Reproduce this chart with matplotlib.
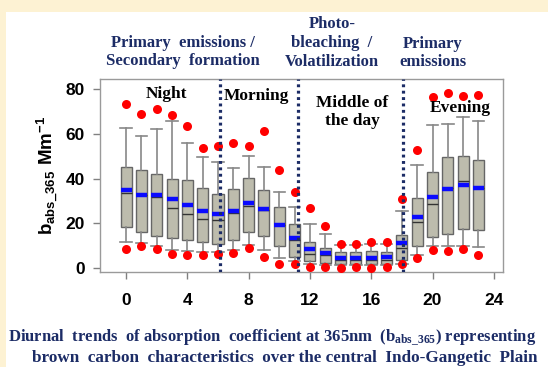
"""Diurnal box plot of b_abs_365 over the central IGP."""

import numpy as np
import matplotlib
matplotlib.use("Agg")
import matplotlib.pyplot as plt
from matplotlib.patches import Rectangle

plt.rcParams["mathtext.fontset"] = "custom"
plt.rcParams["mathtext.bf"] = "Liberation Serif:bold"
plt.rcParams["mathtext.sf"] = "Liberation Sans:bold"
plt.rcParams["mathtext.rm"] = "Liberation Sans"

hours = list(range(24))
top_dot = [73.4, 68.9, 71.0, 68.7, 63.5, 53.5, 54.4, 55.9, 54.4, 61.2, 43.9, 34.1,
           26.6, 18.9, 10.8, 10.8, 11.7, 11.7, 30.7, 52.6, 76.4, 78.2, 77.0, 77.3]
whisk_hi = [62.9, 59.1, 62.1, 65.7, 56.1, 49.8, 47.4, 44.8, 49.9, 45.0, 34.1, 27.4,
            19.8, 15.0, 10.2, 10.2, 10.5, 10.5, 25.6, 46.3, 63.9, 64.4, 67.7, 65.9]
q3 = [45.1, 43.9, 42.1, 40.0, 39.5, 35.9, 33.1, 35.2, 40.3, 35.0, 27.1, 19.8,
      11.4, 9.0, 6.9, 6.9, 7.5, 7.2, 14.7, 31.3, 43.0, 49.6, 50.2, 48.4]
median = [33.4, 32.5, 31.9, 26.8, 24.1, 22.0, 21.5, 24.4, 27.7, 26.0, 19.0, 12.3,
          6.3, 5.6, 3.6, 3.6, 3.3, 3.6, 9.0, 20.3, 28.6, 35.8, 39.1, 35.8]
mean = [34.9, 32.8, 32.5, 30.8, 28.1, 25.3, 24.1, 25.6, 28.9, 26.5, 19.1, 13.5,
        8.4, 6.5, 4.5, 4.5, 4.5, 4.7, 11.1, 22.9, 31.6, 35.2, 37.0, 35.8]
q1 = [18.3, 16.2, 14.1, 13.5, 12.3, 11.7, 10.5, 12.5, 16.2, 14.1, 9.6, 4.8,
      3.0, 2.1, 1.8, 1.8, 1.5, 1.8, 3.6, 9.8, 13.8, 15.3, 17.3, 17.1]
whisk_lo = [11.7, 11.0, 9.6, 8.1, 7.5, 7.2, 7.2, 8.0, 10.2, 8.0, 4.5, 3.0,
            1.5, 1.2, 1.2, 1.2, 1.2, 1.2, 1.8, 5.7, 9.6, 9.6, 9.6, 9.3]
bottom_dot = [8.6, 9.8, 8.6, 6.3, 5.6, 5.7, 6.3, 6.5, 8.7, 4.8, 1.8, 1.8,
              0.5, 0.5, 0.0, 0.3, 0.0, 0.3, 1.5, 4.2, 8.1, 7.5, 8.3, 5.7]

period_breaks = [6.1, 11.2, 18.05]
x_ticks = [0, 4, 8, 12, 16, 20, 24]
y_ticks = [0, 20, 40, 60, 80]

navy = "#1c2c66"

fig = plt.figure(figsize=(5.48, 3.67), dpi=100)
fig.patch.set_facecolor("#fdf2d3")
fig.patches.append(Rectangle((6 / 548, 0), 1, 1 - 12 / 367,
                             transform=fig.transFigure,
                             facecolor="white", edgecolor="none", zorder=-5))

ax = fig.add_axes([100 / 548, 1 - 271.7 / 367, 403 / 548, 193 / 367])

stats = []
for i in range(len(hours)):
    stats.append({
        "med": median[i], "q1": q1[i], "q3": q3[i],
        "whislo": whisk_lo[i], "whishi": whisk_hi[i],
        "mean": mean[i], "fliers": [],
    })

ax.bxp(
    stats,
    positions=hours,
    widths=0.72,
    capwidths=0.75,
    patch_artist=True,
    showmeans=True,
    meanline=True,
    showfliers=False,
    boxprops=dict(facecolor="#bdbcad", edgecolor="#666666", linewidth=1.0),
    medianprops=dict(color="#333333", linewidth=1.0),
    whiskerprops=dict(color="#888888", linewidth=1.2),
    capprops=dict(color="#888888", linewidth=1.2),
    meanprops=dict(color="#0a0aff", linewidth=3.2, linestyle="-"),
    manage_ticks=False,
)

ax.plot(hours, top_dot, "o", color="#ff0000", markersize=6.5,
        markeredgewidth=0, zorder=4)
ax.plot(hours, bottom_dot, "o", color="#ff0000", markersize=6.5,
        markeredgewidth=0, zorder=4)

for xb in period_breaks:
    ax.axvline(xb, color=navy, linewidth=2.3, linestyle=(0, (0.9, 1.1)),
               zorder=5)

ax.set_xlim(-1.7, 24.6)
ax.set_ylim(-1.8, 84.8)
ax.set_xticks(x_ticks)
ax.set_yticks(y_ticks)
for lab in ax.get_xticklabels() + ax.get_yticklabels():
    lab.set_fontfamily("Liberation Sans")
    lab.set_fontweight("bold")
    lab.set_fontsize(12.5)
ax.tick_params(axis="both", direction="out", length=5, color="#808080",
               width=1.0)
ax.tick_params(axis="x", pad=10)
ax.tick_params(axis="y", pad=6)
for sp in ax.spines.values():
    sp.set_color("#9a9a9a")
    sp.set_linewidth(1.0)

ax.set_ylabel(r"$\mathsf{b_{abs\_365}\ Mm^{-1}}$", fontsize=13.5, labelpad=3)

serif = "Liberation Serif"
inner = dict(fontfamily=serif, fontweight="bold", fontsize=12.5,
             color="black", ha="center", va="center", zorder=6)
fig.text(166 / 548, 1 - 94 / 367, "Night", **inner)
fig.text(256 / 548, 1 - 96 / 367, "Morning", **inner)
fig.text(352 / 548, 1 - 112 / 367, "Middle of\nthe day", linespacing=1.15,
         **inner)
fig.text(460 / 548, 1 - 108 / 367, "Evening", **inner)

head = dict(fontfamily=serif, fontweight="bold", fontsize=12, color=navy,
            ha="center", va="center", linespacing=1.23)
fig.text(183 / 548, 1 - 52 / 367, "Primary  emissions /\nSecondary  formation",
         **head)
fig.text(332 / 548, 1 - 43 / 367, "Photo-\nbleaching  /\nVolatilization",
         **head)
fig.text(433 / 548, 1 - 53 / 367, "Primary\nemissions", **head)

cap = dict(fontfamily=serif, fontweight="bold", color=navy,
           ha="left", va="center")
fig.text(8 / 548, 1 - 338 / 367,
         r"Diurnal  trends  of absorption  coefficient at 365nm  "
         r"($\mathbf{b_{abs\_365}}$) representing", fontsize=12.0, **cap)
fig.text(32 / 548, 1 - 358 / 367,
         "brown  carbon  characteristics  over the central  "
         "Indo-Gangetic  Plain", fontsize=12.3, **cap)

fig.savefig("out.png", dpi=100, facecolor=fig.get_facecolor())
